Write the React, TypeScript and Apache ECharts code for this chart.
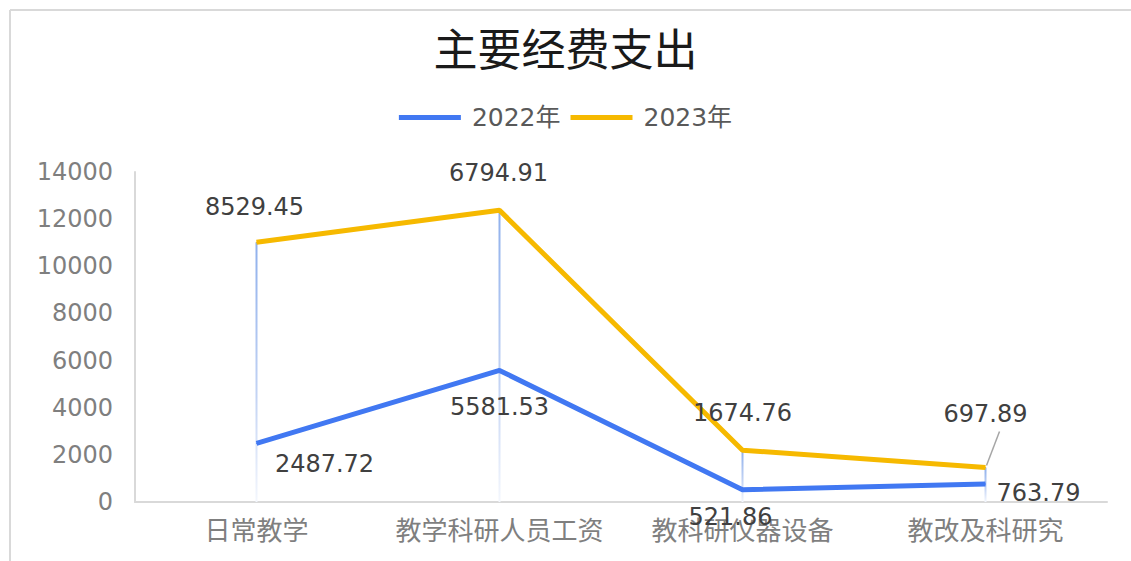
import React, { useEffect, useRef } from "react";
import * as echarts from "echarts";

const categories = ["日常教学", "教学科研人员工资", "教科研仪器设备", "教改及科研究"];
const values2022 = [2487.72, 5581.53, 521.86, 763.79];
const values2023 = [8529.45, 6794.91, 1674.76, 697.89];
const yTicks = { min: 0, max: 14000, interval: 2000 };

// label offsets (layout only)
const offsets2022: [number, number][] = [[68, 21], [0, 37], [-12, 27], [53, 9]];
const offsets2023: [number, number][] = [[-2, -35], [-1, -37], [0, -37], [0, -54]];

const FONT = "'DejaVu Sans', 'Noto Sans CJK SC', sans-serif";

export default function App() {
  const ref = useRef<HTMLDivElement>(null);
  useEffect(() => {
    const chart = echarts.init(ref.current!, null, { renderer: "svg" });
    const totals = values2022.map((v, i) => v + values2023[i]);
    const labelStyle = { color: "#404040", fontSize: 24, fontFamily: FONT };
    chart.setOption({
      animation: false,
      textStyle: { fontFamily: FONT },
      title: {
        text: "主要经费支出",
        left: "center",
        top: 20,
        textStyle: { fontSize: 44, fontWeight: "normal", color: "#1a1a1a", fontFamily: "'Noto Sans CJK SC', sans-serif" },
      },
      legend: {
        top: 100,
        left: "center",
        icon: "rect",
        itemWidth: 62,
        itemHeight: 5,
        itemGap: 10,
        data: ["2022年", "2023年"],
        textStyle: { fontSize: 25, color: "#595959", fontFamily: FONT, padding: [0, 0, 0, 6] },
      },
      graphic: [
        { type: "line", shape: { x1: 10, y1: 10, x2: 1131, y2: 10 }, style: { stroke: "#d9d9d9", lineWidth: 2 } },
        { type: "line", shape: { x1: 10, y1: 10, x2: 10, y2: 561 }, style: { stroke: "#d9d9d9", lineWidth: 2 } },
      ],
      grid: { left: 135, right: 24, top: 172, bottom: 59 },
      xAxis: {
        type: "category",
        data: categories,
        boundaryGap: true,
        axisLine: { lineStyle: { color: "#d9d9d9", width: 2 } },
        axisTick: { show: false },
        axisLabel: { color: "#7f7f7f", fontSize: 26, margin: 13, fontFamily: "'Noto Sans CJK SC', sans-serif", interval: 0 },
      },
      yAxis: {
        type: "value",
        min: yTicks.min,
        max: yTicks.max,
        interval: yTicks.interval,
        axisLine: { show: true, lineStyle: { color: "#d9d9d9", width: 2 } },
        axisTick: { show: false },
        splitLine: { show: false },
        axisLabel: { color: "#7f7f7f", fontSize: 24, margin: 22, fontFamily: FONT, formatter: (v: number) => String(v) },
      },
      series: [
        {
          type: "custom",
          z: 1,
          silent: true,
          data: categories.map((_, i) => [i, totals[i]]),
          renderItem: (params: any, api: any) => {
            const i = api.value(0);
            const top = api.coord([i, api.value(1)]);
            const bottom = api.coord([i, 0]);
            const children: any[] = [
              {
                type: "line",
                shape: { x1: top[0], y1: top[1], x2: bottom[0], y2: bottom[1] },
                style: {
                  lineWidth: 2,
                  stroke: new echarts.graphic.LinearGradient(0, top[1], 0, bottom[1], [
                    { offset: 0, color: "#8fb0ec" },
                    { offset: 0.6, color: "#c4d4f4" },
                    { offset: 1, color: "#f4f7fd" },
                  ], true),
                },
              },
            ];
            if (params.dataIndex === 3) {
              children.push({
                type: "line",
                shape: { x1: top[0] + 1, y1: top[1] - 2, x2: top[0] + 14, y2: top[1] - 36 },
                style: { stroke: "#a6a6a6", lineWidth: 1.5 },
              });
            }
            return { type: "group", children };
          },
        },
        {
          name: "2022年",
          type: "line",
          stack: "total",
          z: 3,
          symbol: "circle",
          symbolSize: 1,
          lineStyle: { width: 5, color: "#4178F2" },
          itemStyle: { color: "#4178F2" },
          data: values2022.map((v, i) => ({
            value: v,
            label: { show: true, position: "inside", offset: offsets2022[i], ...labelStyle },
          })),
        },
        {
          name: "2023年",
          type: "line",
          stack: "total",
          z: 3,
          symbol: "circle",
          symbolSize: 1,
          lineStyle: { width: 5, color: "#F6B900" },
          itemStyle: { color: "#F6B900" },
          data: values2023.map((v, i) => ({
            value: v,
            label: { show: true, position: "inside", offset: offsets2023[i], ...labelStyle },
          })),
        },
      ],
    });
    return () => chart.dispose();
  }, []);
  return <div ref={ref} style={{ position: "absolute", left: 0, top: 0, width: 1131, height: 561, background: "#fff" }} />;
}
